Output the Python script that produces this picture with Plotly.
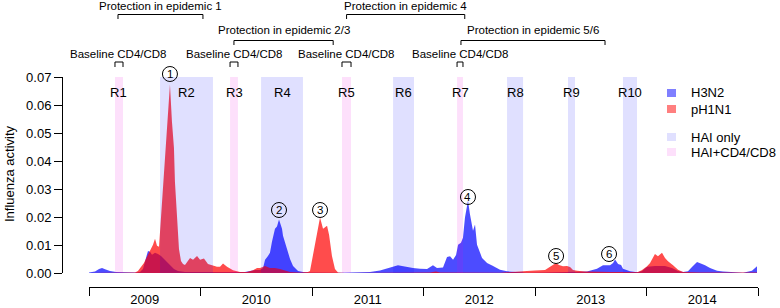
import plotly.graph_objects as go

# ---------------- data ----------------
years = [2009, 2010, 2011, 2012, 2013, 2014]
year_bounds = [2009, 2010, 2011, 2012, 2013, 2014, 2015]
y_ticks = [0.00, 0.01, 0.02, 0.03, 0.04, 0.05, 0.06, 0.07]

h3n2_t = [2009.000, 2009.054, 2009.090, 2009.117, 2009.144, 2009.188, 2009.242, 2009.323,
          2009.413, 2009.457, 2009.484, 2009.511, 2009.529, 2009.547, 2009.565, 2009.592,
          2009.619, 2009.646, 2009.673, 2009.700, 2009.726, 2009.762, 2009.798, 2009.861,
          2009.996, 2010.085, 2010.265, 2010.399, 2010.489, 2010.534, 2010.561, 2010.579,
          2010.605, 2010.623, 2010.641, 2010.668, 2010.686, 2010.704, 2010.731, 2010.740,
          2010.776, 2010.803, 2010.830, 2010.875, 2010.919, 2010.982, 2011.251, 2011.431,
          2011.520, 2011.610, 2011.682, 2011.745, 2011.771, 2011.807, 2011.852, 2011.906,
          2011.969, 2012.032, 2012.085, 2012.121, 2012.175, 2012.211, 2012.238, 2012.265,
          2012.292, 2012.310, 2012.336, 2012.354, 2012.372, 2012.399, 2012.417, 2012.444,
          2012.462, 2012.480, 2012.525, 2012.570, 2012.624, 2012.686, 2012.749, 2012.839,
          2012.928, 2013.090, 2013.224, 2013.359, 2013.467, 2013.556, 2013.610, 2013.673,
          2013.700, 2013.718, 2013.745, 2013.772, 2013.789, 2013.852, 2013.915, 2013.960,
          2014.005, 2014.076, 2014.166, 2014.229, 2014.283, 2014.328, 2014.372, 2014.408,
          2014.453, 2014.498, 2014.525, 2014.570, 2014.633, 2014.686, 2014.776, 2014.866,
          2014.946, 2014.991]
h3n2_v = [0.0002, 0.0005, 0.0014, 0.0018, 0.0013, 0.0007, 0.0004, 0.0002,
          0.0002, 0.0004, 0.0014, 0.0054, 0.0079, 0.0076, 0.0065, 0.0072,
          0.0068, 0.0061, 0.0050, 0.0036, 0.0025, 0.0014, 0.0007, 0.0004,
          0.0004, 0.0004, 0.0002, 0.0004, 0.0011, 0.0011, 0.0018, 0.0047,
          0.0061, 0.0072, 0.0112, 0.0158, 0.0166, 0.0191, 0.0158, 0.0133,
          0.0086, 0.0050, 0.0025, 0.0007, 0.0004, 0.0002, 0.0001, 0.0002,
          0.0004, 0.0009, 0.0018, 0.0024, 0.0028, 0.0025, 0.0021, 0.0018,
          0.0015, 0.0014, 0.0028, 0.0018, 0.0020, 0.0057, 0.0060, 0.0047,
          0.0064, 0.0101, 0.0108, 0.0126, 0.0198, 0.0259, 0.0209, 0.0151,
          0.0173, 0.0101, 0.0054, 0.0036, 0.0025, 0.0012, 0.0006, 0.0003,
          0.0001, 0.0002, 0.0004, 0.0004, 0.0005, 0.0015, 0.0028, 0.0028,
          0.0036, 0.0048, 0.0032, 0.0029, 0.0015, 0.0006, 0.0003, 0.0007,
          0.0022, 0.0025, 0.0025, 0.0018, 0.0007, 0.0004, 0.0006, 0.0021,
          0.0039, 0.0032, 0.0028, 0.0018, 0.0008, 0.0005, 0.0003, 0.0001,
          0.0008, 0.0024]

ph1n1_t = [2009.000, 2009.368, 2009.413, 2009.439, 2009.466, 2009.493, 2009.520, 2009.547,
           2009.574, 2009.592, 2009.610, 2009.628, 2009.646, 2009.664, 2009.682, 2009.691,
           2009.709, 2009.726, 2009.744, 2009.762, 2009.771, 2009.789, 2009.807, 2009.825,
           2009.843, 2009.861, 2009.879, 2009.906, 2009.933, 2009.969, 2009.996, 2010.031,
           2010.067, 2010.112, 2010.148, 2010.175, 2010.202, 2010.238, 2010.292, 2010.354,
           2010.417, 2010.471, 2010.507, 2010.534, 2010.579, 2010.623, 2010.668, 2010.713,
           2010.803, 2010.892, 2010.937, 2010.964, 2010.982, 2011.009, 2011.045, 2011.072,
           2011.099, 2011.135, 2011.153, 2011.179, 2011.206, 2011.233, 2011.296, 2012.058,
           2012.112, 2012.148, 2012.686, 2012.866, 2012.928, 2013.000, 2013.090, 2013.135,
           2013.162, 2013.189, 2013.215, 2013.251, 2013.287, 2013.314, 2013.341, 2013.377,
           2013.449, 2013.538, 2013.673, 2013.807, 2013.924, 2013.960, 2014.005, 2014.032,
           2014.050, 2014.076, 2014.103, 2014.139, 2014.166, 2014.193, 2014.238, 2014.283,
           2014.328, 2014.480, 2014.991]
ph1n1_v = [0.0000, 0.0000, 0.0002, 0.0007, 0.0022, 0.0036, 0.0058, 0.0079,
           0.0101, 0.0122, 0.0097, 0.0094, 0.0205, 0.0306, 0.0414, 0.0446,
           0.0576, 0.0673, 0.0540, 0.0446, 0.0324, 0.0205, 0.0086, 0.0043,
           0.0032, 0.0029, 0.0040, 0.0054, 0.0047, 0.0061, 0.0047, 0.0052,
           0.0032, 0.0025, 0.0022, 0.0022, 0.0034, 0.0022, 0.0010, 0.0004,
           0.0004, 0.0010, 0.0018, 0.0018, 0.0025, 0.0018, 0.0018, 0.0014,
           0.0004, 0.0002, 0.0002, 0.0004, 0.0007, 0.0061, 0.0133, 0.0198,
           0.0158, 0.0169, 0.0137, 0.0061, 0.0014, 0.0002, 0.0000, 0.0002,
           0.0005, 0.0002, 0.0001, 0.0004, 0.0007, 0.0009, 0.0011, 0.0022,
           0.0029, 0.0036, 0.0029, 0.0024, 0.0025, 0.0021, 0.0011, 0.0008,
           0.0005, 0.0004, 0.0004, 0.0004, 0.0004, 0.0011, 0.0024, 0.0036,
           0.0048, 0.0068, 0.0060, 0.0072, 0.0054, 0.0042, 0.0028, 0.0012,
           0.0004, 0.0002, 0.0002]

band_labels = ["R1", "R2", "R3", "R4", "R5", "R6", "R7", "R8", "R9", "R10"]
band_start = [2009.233, 2009.637, 2010.265, 2010.543, 2011.269, 2011.727, 2012.301, 2012.749, 2013.296, 2013.789]
band_end = [2009.305, 2010.112, 2010.336, 2010.919, 2011.350, 2011.915, 2012.354, 2012.893, 2013.359, 2013.915]
band_kind = ["cd", "hai", "cd", "hai", "cd", "hai", "cd", "hai", "hai", "hai"]

baseline_label = "Baseline CD4/CD8"
protection_labels = ["Protection in epidemic 1", "Protection in epidemic 2/3",
                     "Protection in epidemic 4", "Protection in epidemic 5/6"]
protection_start = [2009.260, 2010.300, 2011.310, 2012.336]
protection_end = [2010.022, 2011.190, 2012.370, 2013.628]
protection_row = [0, 1, 0, 1]

peak_labels = ["1", "2", "3", "4", "5", "6"]
peak_t = [2009.726, 2010.704, 2011.072, 2012.399, 2013.189, 2013.664]

legend_labels = ["H3N2", "pH1N1", "HAI only", "HAI+CD4/CD8"]

# ---------------- style / layout helpers ----------------
W, H = 780, 308
ML, MR, MT, MB = 62, 22, 77, 21
PW, PH = W - ML - MR, H - MT - MB
FONT = "Liberation Sans, Arial, Helvetica, sans-serif"

def px(p):  # page pixel x -> paper
    return (p - ML) / PW

def py(p):  # page pixel y -> paper
    return (H - MB - p) / PH

BLUE = "rgba(0,0,255,0.7)"
RED = "rgba(255,0,0,0.7)"
HAI = "rgba(0,0,255,0.12)"
CD = "rgba(235,0,220,0.12)"

fig = go.Figure()
fig.add_trace(go.Scatter(x=h3n2_t, y=h3n2_v, mode="lines", fill="tozeroy",
                         fillcolor=BLUE, line=dict(width=0, color=BLUE),
                         name="H3N2", showlegend=False, hoverinfo="skip"))
fig.add_trace(go.Scatter(x=ph1n1_t, y=ph1n1_v, mode="lines", fill="tozeroy",
                         fillcolor=RED, line=dict(width=0, color=RED),
                         name="pH1N1", showlegend=False, hoverinfo="skip"))

shapes = []
annotations = []

# bands
for lab, s, e, k in zip(band_labels, band_start, band_end, band_kind):
    shapes.append(dict(type="rect", xref="x", yref="y", x0=s, x1=e, y0=0, y1=0.07,
                       fillcolor=CD if k == "cd" else HAI, line=dict(width=0), layer="above"))
    annotations.append(dict(x=(s + e) / 2, y=py(92), xref="x", yref="paper", text=lab,
                            showarrow=False, font=dict(size=13, color="black", family=FONT),
                            xanchor="center", yanchor="middle"))

# baseline brackets
for s, e, k in zip(band_start, band_end, band_kind):
    if k != "cd":
        continue
    shapes.append(dict(type="path", xref="x", yref="paper",
                       path=f"M {s},{py(67)} L {s},{py(62)} L {e},{py(62)} L {e},{py(67)}",
                       line=dict(color="black", width=1)))
    annotations.append(dict(x=(s + e) / 2, y=py(54), xref="x", yref="paper", text=baseline_label,
                            showarrow=False, font=dict(size=11.5, color="black", family=FONT),
                            xanchor="center", yanchor="middle"))

# protection brackets
row_text = [5.5, 30.5]
row_line = [14.5, 40.5]
for lab, s, e, r in zip(protection_labels, protection_start, protection_end, protection_row):
    yl = row_line[r]
    shapes.append(dict(type="path", xref="x", yref="paper",
                       path=f"M {s},{py(yl + 4.5)} L {s},{py(yl)} L {e},{py(yl)} L {e},{py(yl + 4.5)}",
                       line=dict(color="black", width=1)))
    annotations.append(dict(x=(s + e) / 2, y=py(row_text[r]), xref="x", yref="paper", text=lab,
                            showarrow=False, font=dict(size=11.5, color="black", family=FONT),
                            xanchor="center", yanchor="middle"))

# circled peak numbers
peak_ypix = [74, 210, 210, 197, 256, 254]
for lab, t, yp in zip(peak_labels, peak_t, peak_ypix):
    shapes.append(dict(type="circle", xref="x", yref="paper", xsizemode="pixel", ysizemode="pixel",
                       xanchor=t, yanchor=py(yp), x0=-7.5, x1=7.5, y0=-7.5, y1=7.5,
                       line=dict(color="black", width=1), fillcolor="rgba(0,0,0,0)", layer="above"))
    annotations.append(dict(x=t, y=py(yp), xref="x", yref="paper", text=lab, showarrow=False,
                            font=dict(size=11.5, color="black", family=FONT),
                            xanchor="center", yanchor="middle"))

# legend (manual)
leg_colors = ["rgba(0,0,255,0.5)", "rgba(255,0,0,0.5)", HAI, CD]
leg_ypix = [93, 109, 137, 152]
for lab, c, yp in zip(legend_labels, leg_colors, leg_ypix):
    shapes.append(dict(type="rect", xref="paper", yref="paper", x0=px(667), x1=px(676),
                       y0=py(yp + 4), y1=py(yp - 4), fillcolor=c, line=dict(width=0)))
    annotations.append(dict(x=px(689), y=py(yp), xref="paper", yref="paper", text=lab,
                            showarrow=False, font=dict(size=13, color="black", family=FONT),
                            xanchor="left", yanchor="middle"))

# y title
annotations.append(dict(x=px(9), y=py(174), xref="paper", yref="paper", text="Influenza activity",
                        textangle=-90, showarrow=False, font=dict(size=13, color="black", family=FONT),
                        xanchor="center", yanchor="middle"))

fig.update_layout(
    width=W, height=H, autosize=False,
    margin=dict(l=ML, r=MR, t=MT, b=MB, pad=0, autoexpand=False),
    paper_bgcolor="white", plot_bgcolor="white",
    font=dict(family=FONT, size=13, color="black"),
    showlegend=False, hovermode=False,
    shapes=shapes, annotations=annotations,
    xaxis=dict(domain=[px(89), 1.0], range=[year_bounds[0], year_bounds[-1]],
               anchor="free", position=0, showgrid=False, zeroline=False, automargin=False,
               showline=True, linecolor="black", linewidth=1,
               tickmode="array", tickvals=[y + 0.5 for y in years],
               ticktext=[str(y) for y in years], ticks="", ticklen=0,
               tickfont=dict(size=13, family=FONT, color="black"),
               minor=dict(tickmode="array", tickvals=year_bounds, ticks="outside",
                          ticklen=8, tickcolor="black", tickwidth=1, showgrid=False)),
    yaxis=dict(domain=[py(273), 1.0], range=[0, 0.07], anchor="free", position=0,
               showgrid=False, zeroline=False, showline=True, linecolor="black", linewidth=1,
               automargin=False,
               tickmode="array", tickvals=y_ticks, ticktext=[f"{v:.2f}" for v in y_ticks],
               ticks="outside", ticklen=8, tickcolor="black",
               tickfont=dict(size=13, family=FONT, color="black")),
)

fig.write_html("out.html", config={"displayModeBar": False},
               post_script="document.body.style.margin='0px';")
